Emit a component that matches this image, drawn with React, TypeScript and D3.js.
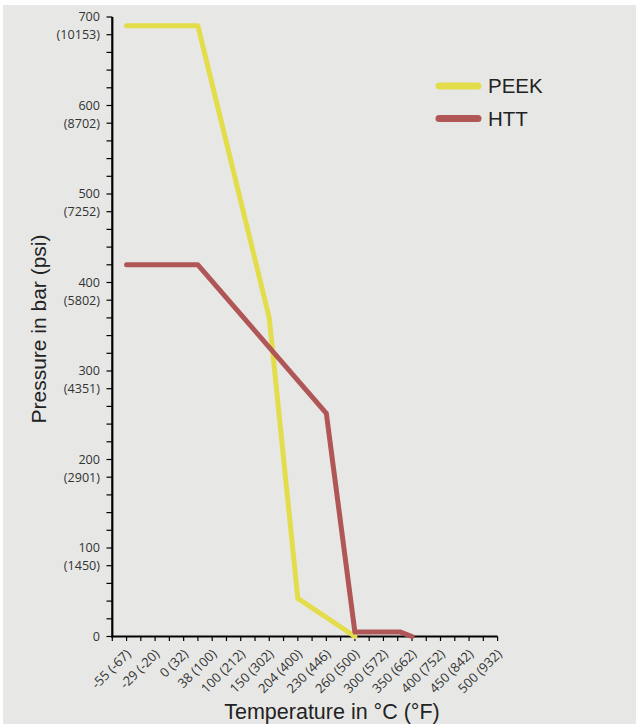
import React from 'react';
import * as d3 from 'd3';

// category labels on the x axis, °C (°F)
const tempLabels = [
  '-55 (-67)', '-29 (-20)', '0 (32)', '38 (100)', '100 (212)', '150 (302)', '204 (400)',
  '230 (446)', '260 (500)', '300 (572)', '350 (662)', '400 (752)', '450 (842)', '500 (932)'
];

// y axis: bar with psi underneath
const barTicks = [0, 100, 200, 300, 400, 500, 600, 700];
const psiLabels = ['', '(1450)', '(2901)', '(4351)', '(5802)', '(7252)', '(8702)', '(10153)'];

// series: x is position along the category axis (label index), y is pressure in bar
const peekX = [0, 2.5, 5, 6, 8];
const peekY = [690, 690, 360, 43, 0];
const httX = [0, 2.5, 7, 8, 9.6, 10];
const httY = [420, 420, 252, 5, 5, 0];

const series = [
  { name: 'PEEK', color: '#e3dd4b', xs: peekX, ys: peekY },
  { name: 'HTT', color: '#b05656', xs: httX, ys: httY }
];

const W = 639;
const H = 727;

export default function App() {
  const x = d3.scaleLinear().domain([-0.5, 13]).range([112.3, 497.6]);
  const y = d3.scaleLinear().domain([0, 700]).range([636.5, 17]);

  const xTicks = d3.range(-0.5, 13.01, 0.5);
  const yTicks = d3.range(0, 701, 20);

  const line = d3.line<[number, number]>()
    .x(d => x(d[0]))
    .y(d => y(d[1]));

  return (
    <svg width={W} height={H} style={{ position: 'absolute', left: 0, top: 0 }}>
      <rect x={0} y={0} width={W} height={H} fill="#ffffff" />
      <rect x={3} y={5} width={633} height={719} fill="#e7e8e6" />

      {/* y axis */}
      <g>
        {yTicks.map(t => (
          <line key={t} x1={106.5} x2={112.3} y1={y(t)} y2={y(t)} stroke="#000" strokeWidth={1.2} />
        ))}
        {barTicks.map((t, i) => (
          <g key={t} fontFamily="'Open Sans', sans-serif" fontSize={12.6} fill="#333" textAnchor="end">
            <text x={100} y={y(t)} dy="0.35em">{t}</text>
            {psiLabels[i] && <text x={100} y={y(t - 20)} dy="0.35em">{psiLabels[i]}</text>}
          </g>
        ))}
        <line x1={112.3} x2={112.3} y1={y(700)} y2={y(0) + 1} stroke="#000" strokeWidth={2.2} />
      </g>

      {/* x axis */}
      <g>
        {xTicks.map(t => (
          <line key={t} x1={x(t)} x2={x(t)} y1={y(0)} y2={y(0) + 4.5} stroke="#000" strokeWidth={1.2} />
        ))}
        <line x1={111.2} x2={x(13)} y1={y(0)} y2={y(0)} stroke="#000" strokeWidth={2.2} />
        {tempLabels.map((lab, i) => (
          <text
            key={lab}
            transform={`translate(${x(i) + 2},${y(0) + 15}) rotate(-45)`}
            textAnchor="end"
            dy="0.35em"
            fontFamily="'Open Sans', sans-serif"
            fontSize={13}
            fill="#333"
          >
            {lab}
          </text>
        ))}
      </g>

      {/* series lines */}
      {series.map(s => (
        <path
          key={s.name}
          d={line(s.xs.map((v, i) => [v, s.ys[i]] as [number, number])) || ''}
          fill="none"
          stroke={s.color}
          strokeWidth={5}
          strokeLinecap="round"
          strokeLinejoin="round"
        />
      ))}

      {/* legend */}
      {series.map((s, i) => (
        <g key={s.name} transform={`translate(439,${86 + i * 32.5})`}>
          <line x1={0} x2={39} y1={0} y2={0} stroke={s.color} strokeWidth={7} strokeLinecap="round" />
          <text x={49} y={0} dy="0.35em" fontFamily="'Liberation Sans', Arial, sans-serif" fontSize={20.5} fill="#222">
            {s.name}
          </text>
        </g>
      ))}

      {/* axis titles */}
      <text
        transform="translate(46,329) rotate(-90)"
        textAnchor="middle"
        fontFamily="'Liberation Sans', Arial, sans-serif"
        fontSize={21}
        fill="#222"
      >
        Pressure in bar (psi)
      </text>
      <text
        x={332}
        y={719}
        textAnchor="middle"
        fontFamily="'Liberation Sans', Arial, sans-serif"
        fontSize={21.5}
        fill="#222"
      >
        Temperature in °C (°F)
      </text>
    </svg>
  );
}
